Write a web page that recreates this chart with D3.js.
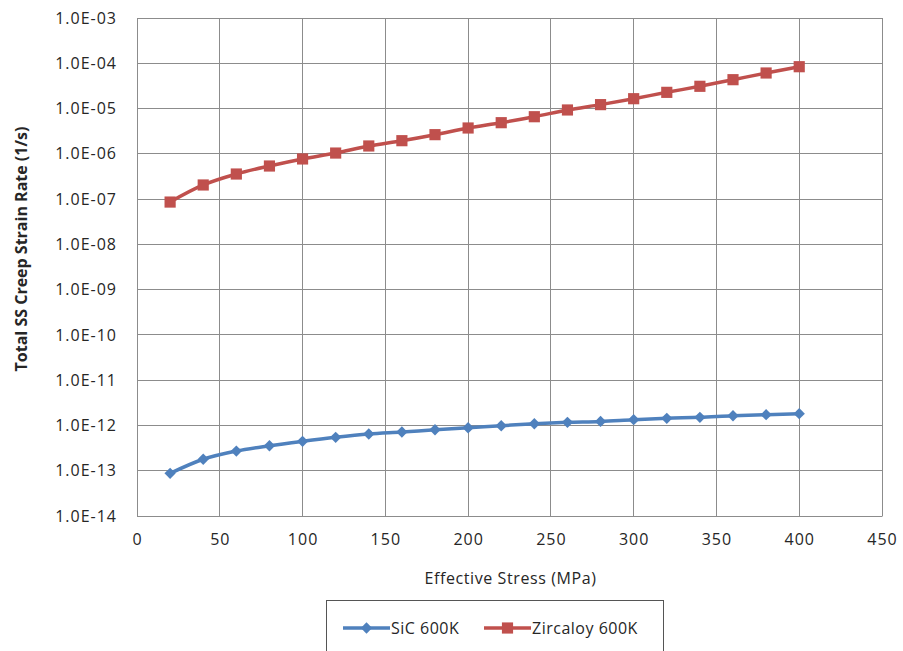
<!DOCTYPE html>
<meta charset="utf-8">
<style>
    body { margin: 0; background: #fff; overflow: hidden; }
    text { font-family: "Open Sans", "Noto Sans", sans-serif; fill: #262626; }
</style>
<svg id="canvas" width="903" height="651"></svg>
<script src="https://d3js.org/d3.v7.min.js"></script>
<script>

    var stress = [20, 40, 60, 80, 100, 120, 140, 160, 180, 200, 220, 240, 260, 280, 300, 320, 340, 360, 380, 400];
    var sicRate = [8.75e-14, 1.79e-13, 2.72e-13, 3.56e-13, 4.46e-13, 5.47e-13, 6.47e-13, 7.16e-13, 8.05e-13, 8.9e-13,
                   9.86e-13, 1.09e-12, 1.17e-12, 1.23e-12, 1.34e-12, 1.44e-12, 1.51e-12, 1.64e-12, 1.73e-12, 1.82e-12];
    var zircRate = [8.6e-8, 2.05e-7, 3.58e-7, 5.38e-7, 7.7e-7, 1.04e-6, 1.49e-6, 1.95e-6, 2.65e-6, 3.72e-6,
                    4.87e-6, 6.6e-6, 9.3e-6, 1.22e-5, 1.65e-5, 2.28e-5, 3.1e-5, 4.34e-5, 6.1e-5, 8.4e-5];
    var xTicks = [0, 50, 100, 150, 200, 250, 300, 350, 400, 450];
    var yTicks = [1e-3, 1e-4, 1e-5, 1e-6, 1e-7, 1e-8, 1e-9, 1e-10, 1e-11, 1e-12, 1e-13, 1e-14];
    var seriesNames = ["SiC 600K", "Zircaloy 600K"];

    var svg = d3.select("#canvas");
    var plotL = 137, plotR = 882, plotT = 18, plotB = 516;

    var x = d3.scaleLinear().domain([0, 450]).range([plotL, plotR]);
    var y = d3.scaleLog().domain([1e-14, 1e-3]).range([plotB, plotT]);

    // grid
    svg.append("g").selectAll("line").data(yTicks).enter().append("line")
        .attr("x1", plotL).attr("x2", plotR)
        .attr("y1", function(d) { return y(d); }).attr("y2", function(d) { return y(d); })
        .attr("stroke", "#8c8c8c").attr("stroke-width", 1).attr("shape-rendering", "crispEdges");
    svg.append("g").selectAll("line").data(xTicks).enter().append("line")
        .attr("y1", plotT).attr("y2", plotB)
        .attr("x1", function(d) { return x(d); }).attr("x2", function(d) { return x(d); })
        .attr("stroke", "#8c8c8c").attr("stroke-width", 1).attr("shape-rendering", "crispEdges");

    // axes
    var xAxis = svg.append("g").attr("transform", "translate(0," + plotB + ")")
        .call(d3.axisBottom(x).tickValues(xTicks).tickSize(0).tickPadding(18).tickFormat(d3.format("d")));
    var yAxis = svg.append("g").attr("transform", "translate(" + plotL + ",0)")
        .call(d3.axisLeft(y).tickValues(yTicks).tickSize(0).tickPadding(20)
            .tickFormat(function(d) {
                var e = Math.round(Math.log10(d));
                return "1.0E-" + (e > -10 ? "0" : "") + (-e);
            }));
    [xAxis, yAxis].forEach(function(a) {
        a.select(".domain").attr("stroke", "#8c8c8c");
        a.selectAll("text").style("font-family", "'Open Sans', sans-serif").style("font-size", "16px")
            .style("letter-spacing", "1px").attr("fill", "#262626");
    });

    svg.append("text").attr("x", (plotL + plotR) / 2 + 1).attr("y", 584)
        .attr("text-anchor", "middle").style("font-size", "16px").style("letter-spacing", "0.6px")
        .text("Effective Stress (MPa)");
    svg.append("text").attr("transform", "translate(27,249) rotate(-90)")
        .attr("text-anchor", "middle").style("font-size", "16px").style("font-weight", "bold")
        .text("Total SS Creep Strain Rate (1/s)");

    var series = [
        { name: seriesNames[0], values: sicRate, color: "#4f81bd", shape: d3.symbolSquare, size: 64, rot: 45 },
        { name: seriesNames[1], values: zircRate, color: "#c0504d", shape: d3.symbolSquare, size: 125, rot: 0 }
    ];

    var line = d3.line().curve(d3.curveMonotoneX)
        .x(function(d) { return x(d[0]); }).y(function(d) { return y(d[1]); });

    series.forEach(function(s) {
        var pts = stress.map(function(v, i) { return [v, s.values[i]]; });
        svg.append("path").datum(pts).attr("d", line)
            .attr("fill", "none").attr("stroke", s.color).attr("stroke-width", 3.5);
        svg.append("g").selectAll("path").data(pts).enter().append("path")
            .attr("d", d3.symbol().type(s.shape).size(s.size))
            .attr("transform", function(d) {
                return "translate(" + x(d[0]) + "," + y(d[1]) + ") rotate(" + s.rot + ")";
            })
            .attr("fill", s.color);
    });

    // legend
    var lg = svg.append("g");
    lg.append("rect").attr("x", 326.5).attr("y", 600.5).attr("width", 337).attr("height", 60)
        .attr("fill", "#fff").attr("stroke", "#555").attr("stroke-width", 1);
    var legX = [343, 484];
    series.forEach(function(s, i) {
        var g = lg.append("g").attr("transform", "translate(" + legX[i] + ",628)");
        g.append("line").attr("x1", 0).attr("x2", 47).attr("stroke", s.color).attr("stroke-width", 3.5);
        g.append("path").attr("d", d3.symbol().type(s.shape).size(s.size))
            .attr("transform", "translate(23.5,0) rotate(" + s.rot + ")").attr("fill", s.color);
        g.append("text").attr("x", 48).attr("y", 6).style("font-size", "16px").style("letter-spacing", "0.5px")
            .text(s.name);
    });

</script>
